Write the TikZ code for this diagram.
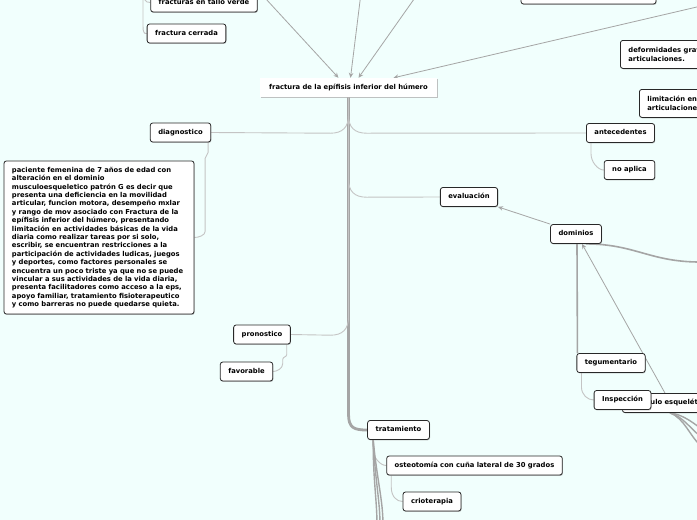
\documentclass[tikz,border=0pt]{standalone}
\usepackage{fontspec}
\newfontfamily\bxf{DejaVu Sans}
\usetikzlibrary{shadows,arrows.meta,backgrounds}
\definecolor{bg}{RGB}{241,255,253}
\definecolor{ln}{RGB}{165,165,165}
\definecolor{lnl}{RGB}{196,196,196}
\definecolor{bd}{RGB}{40,40,40}
\begin{document}
\begin{tikzpicture}[x=1pt,y=-1pt,
  boxbase/.style={draw=bd, line width=0.8pt, fill=white, rounded corners=2.5pt,
    font=\bxf\bfseries\fontsize{6.8}{8.4}\selectfont, inner xsep=8pt,
    drop shadow={shadow xshift=0.6pt, shadow yshift=-0.9pt, fill=black!40, opacity=0.6}},
  one/.style={boxbase, inner ysep=0pt, minimum height=19pt, text height=5pt, text depth=1.6pt},
  two/.style={boxbase, align=left, inner ysep=5pt, minimum height=28pt},
  cent/.style={fill=white, font=\bxf\bfseries\fontsize{6.8}{8.4}\selectfont, inner xsep=8pt,
    inner ysep=0pt, minimum height=19pt, minimum width=177pt, text height=5pt, text depth=1.6pt,
    drop shadow={shadow xshift=0.5pt, shadow yshift=-1.2pt, fill=black!30, opacity=0.8}},
  arr/.style={draw=ln, line width=0.8pt, -{Stealth[length=5pt,width=4.5pt]}},
  br/.style={draw=lnl, line width=0.9pt},
  brd/.style={draw=ln, line width=1.1pt},
  trunk/.style={draw=ln, line width=2.8pt},
  bund/.style={draw=ln, line width=1.4pt}
]
\useasboundingbox (0,0) rectangle (697,520);
\begin{scope}
\clip (0,0) rectangle (697,520);
% nodes
\node[cent] (c) at (348.5,87.5) {fractura de la epífisis inferior del húmero};
\node[one] (tallo) at (204,2.5) {fracturas en tallo verde};
\node[one] (cerr) at (186.5,33.5) {fractura cerrada};
\node[one, minimum width=135pt, minimum height=20pt] (topb) at (588.5,-6) {};
\node[two, anchor=north west] (deform) at (620,40) {deformidades graves en las\\articulaciones.};
\node[two, anchor=north west] (limit) at (639,89) {limitación en la movilidad de las\\articulaciones.};
\node[one] (diag) at (180.5,132.5) {diagnostico};
\node[boxbase, text width=174pt, align=left, inner ysep=6pt] (para) at (99,237.5)
 {paciente femenina de 7 años de edad con\\
alteración en el dominio\\
musculoesqueletico patrón G es decir que\\
presenta una deficiencia en la movilidad\\
articular, funcion motora, desempeño mxlar\\
y rango de mov asociado con Fractura de la\\
epífisis inferior del húmero, presentando\\
limitación en actividades básicas de la vida\\
diaria como realizar tareas por si solo,\\
escribir, se encuentran restricciones a la\\
participación de actividades ludicas, juegos\\
y deportes, como factores personales se\\
encuentra un poco triste ya que no se puede\\
vincular a sus actividades de la vida diaria,\\
presenta facilitadores como acceso a la eps,\\
apoyo familiar, tratamiento fisioterapeutico\\
y como barreras no puede quedarse quieta.};
\node[one] (ante) at (620.5,133) {antecedentes};
\node[one] (noap) at (629.5,170) {no aplica};
\node[one] (eval) at (469,197) {evaluación};
\node[one] (dom) at (576,234) {dominios};
\node[one] (teg) at (611,363) {tegumentario};
\node[one, anchor=west] (musc) at (622,403) {músculo esquelético};
\node[one] (insp) at (622.5,400) {Inspección};
\node[one] (pron) at (262,334.5) {pronostico};
\node[one] (fav) at (246.5,371.5) {favorable};
\node[one] (trat) at (398.5,430) {tratamiento};
\node[one] (osteo) at (474.5,465.5) {osteotomía con cuña lateral de 30 grados};
\node[one] (crio) at (432,501.5) {crioterapia};
% free ends
\coordinate (s1) at (248.5,-20);
\coordinate (s2) at (362.6,-20);
\coordinate (s3) at (427.5,-20);
\coordinate (s4) at (720,1.6);
\coordinate (t0) at (143,-12);
\coordinate (domR) at (700,262);
\coordinate (m1) at (700,428);
\coordinate (m2) at (700,436);
\coordinate (m3) at (700,445);
\coordinate (b1) at (377,525);
\coordinate (b2) at (380,525);
\coordinate (b3) at (383,525);
\end{scope}
\begin{scope}[on background layer]
\clip (0,0) rectangle (697,520);
\fill[bg] (0,0) rectangle (697,520);
% arrows into central node
\draw[arr] (s1) -- ([xshift=-10pt]c.north);
\draw[arr] (s2) -- ([xshift=2pt]c.north);
\draw[arr] (s3) -- ([xshift=10pt]c.north);
\draw[arr] (s4) -- ([xshift=45pt]c.north);
% top-left group
\draw[br] (t0) -- (143,26) .. controls (143,32) and (144,34) .. (cerr.west);
\draw[br] (t0) .. controls (143,0) and (145,2.5) .. (tallo.west);
% trunk and branches
\draw[trunk] (c.south) -- (348.5,414) .. controls (348.5,428) and (354,430) .. (trat.west);
\draw[br] (c.south) -- ++(0,18) .. controls +(0,12) and +(12,0) .. ++(-18,18) -- (diag.east);
\draw[br] (c.south) -- ++(0,18) .. controls +(0,12) and +(-12,0) .. ++(18,18) -- (ante.west);
\draw[br] (c.south) -- ++(0,82) .. controls +(0,12) and +(-12,0) .. ++(18,18) -- (eval.west);
\draw[br] (c.south) -- ++(0,220) .. controls +(0,12) and +(12,0) .. ++(-18,18) -- (pron.east);
% sub branches
\draw[br] ([xshift=-3pt]diag.south east) -- ++(0,10) .. controls +(0,3) and +(0,-3) .. ++(-3,6)
  -- ++(0,73) .. controls +(0,4) and +(4,0) .. (para.east);
\draw[br] ([xshift=5pt]ante.south west) -- ++(0,11) .. controls +(0,8) and +(-6,0) .. (noap.west);
\draw[br] ([xshift=-4pt]pron.south east) -- ++(0,10) .. controls +(0,3) and +(0,-3) .. ++(-4,5)
  -- ++(0,4) .. controls +(0,5) and +(4,0) .. (fav.east);
\draw[br] ([xshift=6pt]trat.south west) -- ++(0,9) .. controls +(0,9) and +(-6,0) .. (osteo.west);
\draw[br] ([xshift=5pt]osteo.south west) -- ++(0,12) .. controls +(0,9) and +(-6,0) .. (crio.west);
\draw[bund] ([xshift=6pt]trat.south west) .. controls (373,480) and (377,500) .. (b1);
\draw[bund] ([xshift=6pt]trat.south west) .. controls (375,480) and (380,500) .. (b2);
\draw[bund] ([xshift=6pt]trat.south west) .. controls (377,480) and (383,500) .. (b3);
% dominios
\draw[arr] (dom.north west) -- (eval.south east);
\draw[brd, line width=1.6pt] ([xshift=1pt]dom.south) -- ([xshift=1pt]teg.north west);
\draw[br] ([xshift=5pt]teg.south west) -- ++(0,14) .. controls +(0,8) and +(-6,0) .. (insp.west);
\draw[arr] ([xshift=43pt]musc.north west) -- ([xshift=6pt]dom.south);
\draw[brd, line width=1.6pt] ([xshift=10pt]dom.south) .. controls (635,244) and (650,262) .. (domR);
\draw[bund] ([xshift=48pt]musc.south west) .. controls (680,414) and (690,420) .. (m1);
\draw[bund] ([xshift=48pt]musc.south west) .. controls (682,416) and (690,428) .. (m2);
\draw[bund] ([xshift=48pt]musc.south west) .. controls (684,418) and (690,436) .. (m3);
\end{scope}
\end{tikzpicture}
\end{document}
